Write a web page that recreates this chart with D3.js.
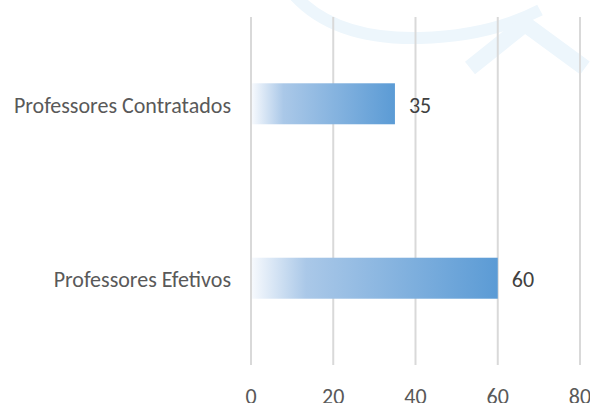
<!DOCTYPE html>
<html>
<head>
<meta charset="utf-8">
<script src="https://cdn.jsdelivr.net/npm/d3@7"></script>
<style>
  body { margin: 0; background: #fff; }
  svg { display: block; }
</style>
</head>
<body>
<svg class="chart" width="590" height="403"></svg>
<script>
// data
var categories = ["Professores Contratados", "Professores Efetivos"];
var values = [35, 60];
var ticks = [0, 20, 40, 60, 80];

(function(){
    var svg = d3.select("svg.chart"),
        width = +svg.attr("width"),
        height = +svg.attr("height");

    var font = "Carlito, Lato, sans-serif";
    var fontSize = 22;

    // faint seal watermark in the top right corner
    var mark = svg.append("g").attr("id", "watermark")
        .attr("fill", "none")
        .attr("stroke", "#edf6fc");
    mark.append("path")
        .attr("d", "M 290 -10 Q 330 40 420 38 Q 490 36 540 10")
        .attr("stroke-width", 12);
    mark.append("path")
        .attr("d", "M 470 68 L 525 24 L 585 68")
        .attr("stroke-width", 16)
        .attr("stroke-linejoin", "round");

    var x = d3.scaleLinear().domain([0, 80]).range([251, 580]);
    var y = d3.scaleBand().domain(categories).range([17, 365])
        .paddingInner(0.765).paddingOuter(0.38);

    var defs = svg.append("defs");
    var grad = defs.append("linearGradient")
        .attr("id", "barGrad")
        .attr("x1", "0").attr("x2", "1").attr("y1", "0").attr("y2", "0");
    grad.append("stop").attr("offset", "0").attr("stop-color", "#f6f9fd");
    grad.append("stop").attr("offset", "0.22").attr("stop-color", "#aac8e8");
    grad.append("stop").attr("offset", "1").attr("stop-color", "#5b9bd5");

    // vertical grid lines
    svg.append("g").attr("id", "grid")
        .selectAll("line")
        .data(ticks)
        .enter().append("line")
        .attr("x1", function(d){ return x(d); })
        .attr("x2", function(d){ return x(d); })
        .attr("y1", 17)
        .attr("y2", 365)
        .attr("stroke", "#d9d9d9")
        .attr("stroke-width", 2);

    // bars
    svg.append("g").attr("id", "bars")
        .selectAll("rect")
        .data(values)
        .enter().append("rect")
        .attr("x", x(0) + 1)
        .attr("y", function(d, i){ return y(categories[i]); })
        .attr("width", function(d){ return x(d) - x(0) - 1; })
        .attr("height", y.bandwidth())
        .attr("fill", "url(#barGrad)");

    // value labels
    svg.append("g").attr("id", "values")
        .selectAll("text")
        .data(values)
        .enter().append("text")
        .attr("x", function(d){ return x(d) + 14; })
        .attr("y", function(d, i){ return y(categories[i]) + y.bandwidth() / 2 + 9; })
        .attr("font-family", font)
        .attr("font-size", fontSize)
        .attr("fill", "#404040")
        .text(function(d){ return d; });

    // category labels
    svg.append("g").attr("id", "cats")
        .selectAll("text")
        .data(categories)
        .enter().append("text")
        .attr("x", 231)
        .attr("y", function(d){ return y(d) + y.bandwidth() / 2 + 9; })
        .attr("text-anchor", "end")
        .attr("font-family", font)
        .attr("font-size", fontSize)
        .attr("fill", "#595959")
        .text(function(d){ return d; });

    // x tick labels
    svg.append("g").attr("id", "xticks")
        .selectAll("text")
        .data(ticks)
        .enter().append("text")
        .attr("x", function(d){ return x(d); })
        .attr("y", 404)
        .attr("text-anchor", "middle")
        .attr("font-family", font)
        .attr("font-size", fontSize)
        .attr("fill", "#595959")
        .text(function(d){ return d; });
})();
</script>
</body>
</html>
